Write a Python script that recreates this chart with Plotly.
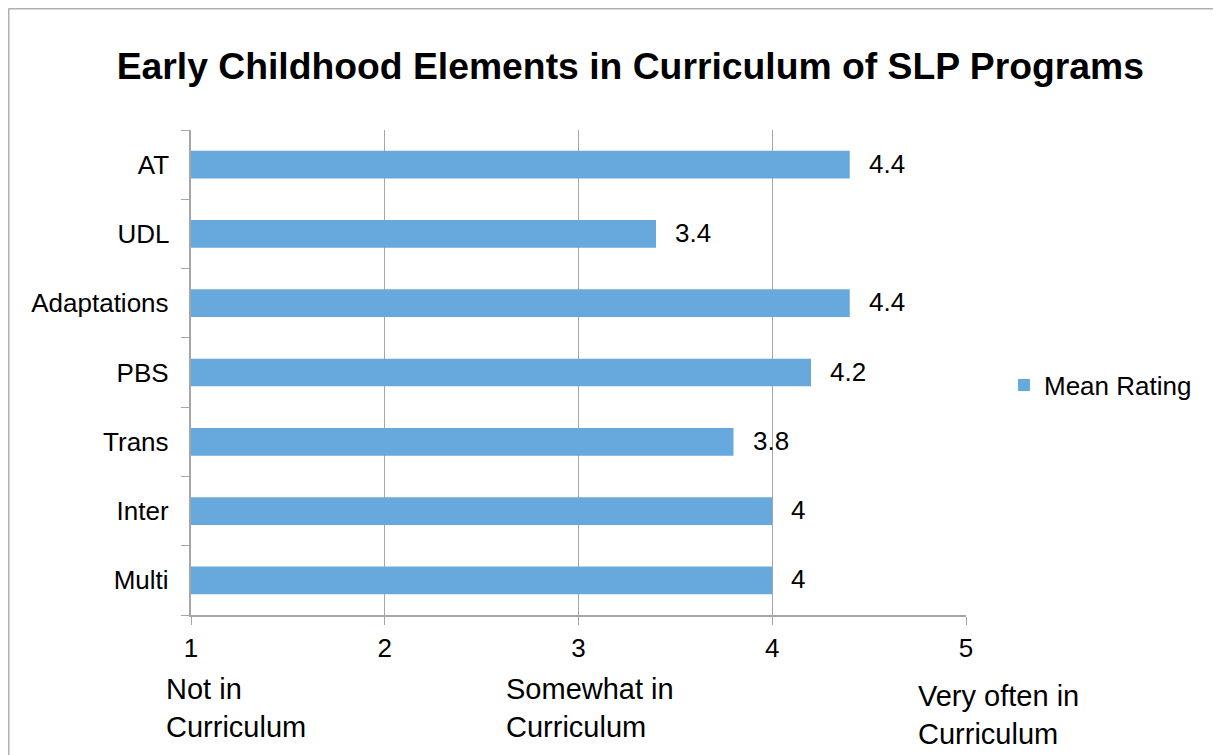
import plotly.graph_objects as go

# data
categories = ["AT", "UDL", "Adaptations", "PBS", "Trans", "Inter", "Multi"]
mean_rating = [4.4, 3.4, 4.4, 4.2, 3.8, 4, 4]
scale_labels = ["Not in<br>Curriculum", "Somewhat in<br>Curriculum", "Very often in<br>Curriculum"]
scale_positions = [1, 3, 5]

FONT = "Liberation Sans, Arial, sans-serif"
BAR_COLOR = "#68a9dd"

fig = go.Figure()
fig.add_trace(go.Bar(
    y=categories,
    x=[v - 1 for v in mean_rating],
    base=1,
    orientation="h",
    name="Mean Rating",
    marker=dict(color=BAR_COLOR, line=dict(width=0)),
    width=0.4,
    showlegend=True,
))

# value labels to the right of each bar
for cat, v in zip(categories, mean_rating):
    fig.add_annotation(
        x=v, y=cat, xref="x", yref="y",
        text=f"{v:g}", showarrow=False,
        xanchor="left", xshift=17, yshift=1,
        font=dict(family=FONT, size=26, color="#000000"),
    )

# scale descriptions under the axis
for pos, lab, xs, ys in zip(scale_positions, scale_labels, [-27, -75, -50], [-56, -56, -63]):
    fig.add_annotation(
        x=pos, y=0, xref="x", yref="paper",
        text=lab, showarrow=False, align="left",
        xanchor="left", yanchor="top", xshift=xs, yshift=ys,
        font=dict(family=FONT, size=29, color="#000000"),
    )

# chart area border: only left and top edges are visible in the crop
bx0 = (8.5 - 191) / 775
by1 = 1 + (130 - 8.5) / 485
border = [
    dict(type="line", xref="paper", yref="paper", x0=bx0, x1=bx0, y0=-0.5, y1=by1,
         line=dict(color="#b0b0b0", width=2), layer="below"),
    dict(type="line", xref="paper", yref="paper", x0=bx0, x1=1.5, y0=by1, y1=by1,
         line=dict(color="#b0b0b0", width=2), layer="below"),
]

# page body has an 8px margin, so the figure sits at (8, 8)
fig.update_layout(
    width=1213, height=747,
    margin=dict(l=183, r=255, t=122, b=140),
    paper_bgcolor="white", plot_bgcolor="white",
    font=dict(family=FONT, color="#000000"),
    title=dict(
        text="<b>Early Childhood Elements in Curriculum of SLP Programs</b>",
        x=0.513, xanchor="center", y=0.922, yanchor="middle",
        font=dict(family=FONT, size=37.3, color="#000000"),
    ),
    legend=dict(
        x=1.049, y=0.474, xanchor="left", yanchor="middle",
        font=dict(family=FONT, size=26, color="#000000"),
        itemwidth=30, bgcolor="rgba(0,0,0,0)",
    ),
    xaxis=dict(
        range=[1, 5], tickmode="array", tickvals=[1, 2, 3, 4, 5],
        showgrid=True, gridcolor="#a6a6a6", gridwidth=1,
        showline=True, linecolor="#a6a6a6", linewidth=2,
        ticks="outside", ticklen=8, tickcolor="#a6a6a6",
        ticklabelstandoff=1,
        tickfont=dict(family=FONT, size=26, color="#000000"),
        zeroline=False, fixedrange=True,
    ),
    yaxis=dict(
        categoryorder="array", categoryarray=categories[::-1],
        showline=True, linecolor="#a6a6a6", linewidth=2,
        ticks="outside", ticklen=8, tickcolor="#a6a6a6", tickson="boundaries",
        showgrid=False,
        tickfont=dict(family=FONT, size=26, color="#000000"),
        ticksuffix=" ", ticklabelstandoff=8,
    ),
    shapes=border,
)

fig.write_html("out.html")
